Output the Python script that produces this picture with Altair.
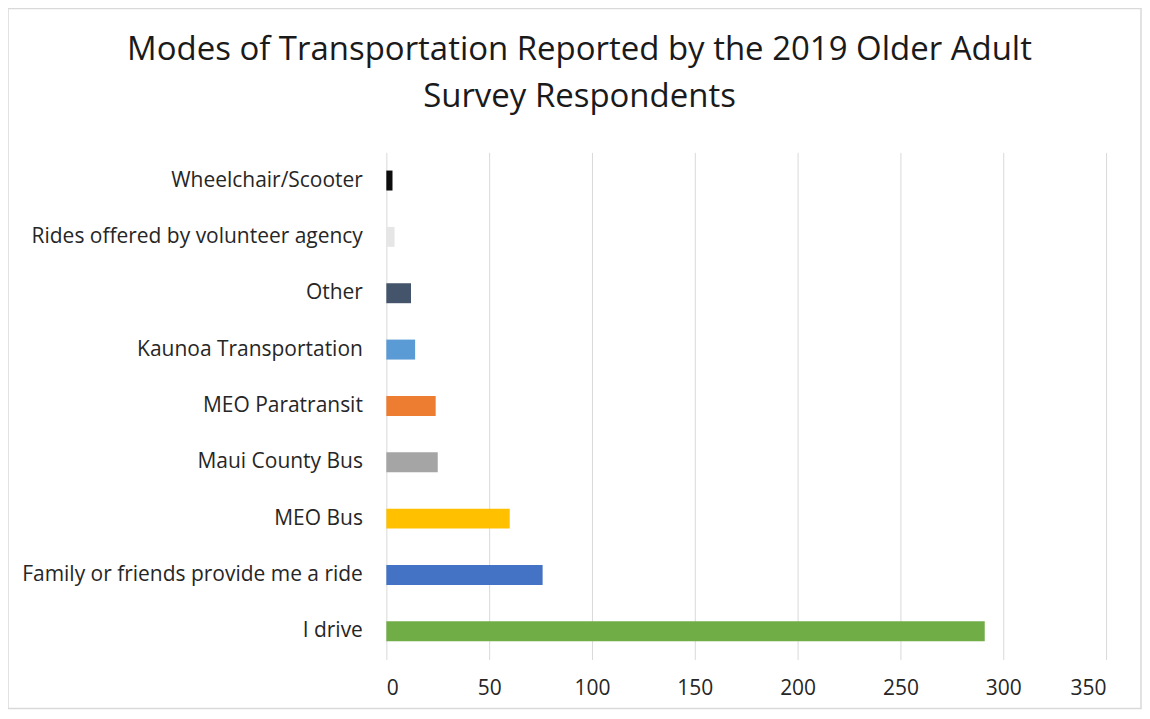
import altair as alt
import pandas as pd

categories = [
    "Wheelchair/Scooter",
    "Rides offered by volunteer agency",
    "Other",
    "Kaunoa Transportation",
    "MEO Paratransit",
    "Maui County Bus",
    "MEO Bus",
    "Family or friends provide me a ride",
    "I drive",
]
counts = [3, 4, 12, 14, 24, 25, 60, 76, 291]
colors = ["#0d0d0d", "#e7e6e6", "#44546a", "#5b9bd5", "#ed7d31",
          "#a5a5a5", "#ffc000", "#4472c4", "#70ad47"]
x_ticks = [0, 50, 100, 150, 200, 250, 300, 350]

df = pd.DataFrame({"mode": categories, "count": counts})

FONT = "Open Sans"
W, H = 721, 508

bars = alt.Chart(df).mark_bar(size=20).encode(
    y=alt.Y("mode:N", sort=categories, title=None,
            axis=alt.Axis(domain=False, ticks=False, grid=False, labelFontSize=21,
                          labelColor="#262626", labelPadding=24, labelFont=FONT,
                          labelLimit=400, minExtent=379, maxExtent=379)),
    x=alt.X("count:Q", title=None,
            scale=alt.Scale(domain=[0, 350], nice=False),
            axis=alt.Axis(values=x_ticks, domain=False, ticks=False, grid=True,
                          gridColor="#d9d9d9", labelFontSize=21,
                          labelColor="#262626", labelPadding=18, labelFont=FONT)),
    color=alt.Color("mode:N", scale=alt.Scale(domain=categories, range=colors),
                    legend=None),
)

frame = alt.Chart(alt.Data(values=[{}])).mark_rect(
    fill=None, stroke="#d9d9d9", strokeWidth=1.5
).encode(
    x=alt.value(-379), x2=alt.value(756),
    y=alt.value(-144), y2=alt.value(557),
)

chart = alt.layer(frame, bars).properties(
    width=W, height=H,
    background="white",
    autosize=alt.AutoSizeParams(type="none"),
    padding={"left": 379, "top": 144, "right": 36, "bottom": 51},
    title=alt.TitleParams(
        ["Modes of Transportation Reported by the 2019 Older Adult",
         "Survey Respondents"],
        fontSize=33, font=FONT, fontWeight="normal", color="#1a1a1a",
        anchor="middle", frame="group", dx=-167, offset=-106, lineHeight=47,
    ),
).configure_view(stroke="transparent", strokeWidth=0).configure_axis(
    domain=False
)

chart.save("out.html", embed_options={"renderer": "svg", "actions": False})
